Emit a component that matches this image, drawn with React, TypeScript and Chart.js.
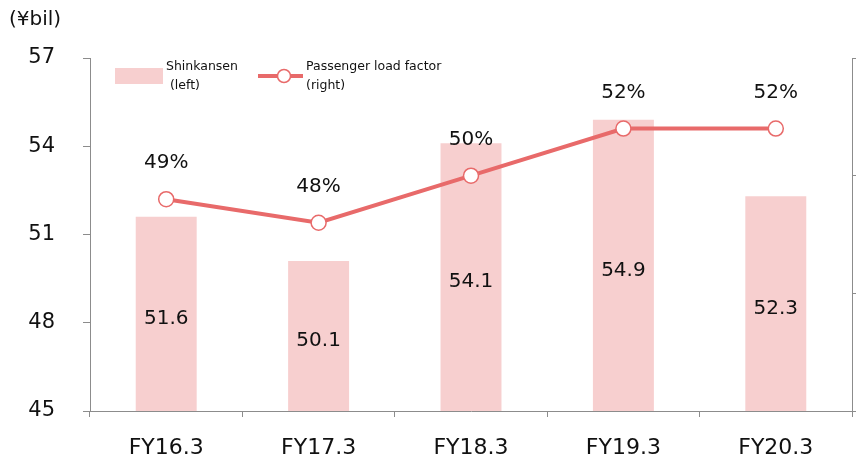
import React, { useEffect, useRef } from "react";
import { Chart, registerables } from "chart.js";

Chart.register(...registerables);

const categories = ["FY16.3", "FY17.3", "FY18.3", "FY19.3", "FY20.3"];
const shinkansen = [51.6, 50.1, 54.1, 54.9, 52.3];
const loadFactor = [49, 48, 50, 52, 52];
const loadLabels = ["49%", "48%", "50%", "52%", "52%"];
const leftTicks = [45, 48, 51, 54, 57];

const FONT = "'DejaVu Sans', Verdana, sans-serif";
const BAR_COLOR = "#F7CFCF";
const LINE_COLOR = "#E86A6A";
const AXIS_COLOR = "#8C8C8C";

const overlayPlugin = {
  id: "overlay",
  afterDatasetsDraw(chart: any) {
    const ctx = chart.ctx;
    ctx.save();
    ctx.fillStyle = "#111";
    ctx.textAlign = "center";
    ctx.textBaseline = "middle";
    ctx.font = `20px ${FONT}`;
    const yScale = chart.scales.y;
    const xScale = chart.scales.x;
    const basePx = yScale.getPixelForValue(yScale.min);
    shinkansen.forEach((v, i) => {
      const top = yScale.getPixelForValue(v);
      const x = xScale.getPixelForValue(i);
      ctx.fillText(v.toFixed(1), x, (top + basePx) / 2 + 5);
    });
    const lineMeta = chart.getDatasetMeta(0);
    lineMeta.data.forEach((el: any, i: number) => {
      ctx.fillText(loadLabels[i], el.x, el.y - 36);
    });

    // unit label
    ctx.textAlign = "left";
    ctx.font = `20px ${FONT}`;
    ctx.fillText("(¥bil)", 9, 20);

    // legend
    ctx.fillStyle = BAR_COLOR;
    ctx.fillRect(115, 68, 48, 16);
    ctx.fillStyle = "#111";
    ctx.font = `12.5px ${FONT}`;
    ctx.fillText("Shinkansen", 166, 67);
    ctx.fillText(" (left)", 166, 86);

    ctx.strokeStyle = LINE_COLOR;
    ctx.lineWidth = 4;
    ctx.beginPath();
    ctx.moveTo(258, 76);
    ctx.lineTo(303, 76);
    ctx.stroke();
    ctx.beginPath();
    ctx.arc(284, 76, 6.5, 0, Math.PI * 2);
    ctx.fillStyle = "#fff";
    ctx.fill();
    ctx.lineWidth = 1.5;
    ctx.stroke();
    ctx.fillStyle = "#111";
    ctx.fillText("Passenger load factor", 306, 67);
    ctx.fillText("(right)", 306, 86);
    ctx.restore();
  },
};

export default function App() {
  const ref = useRef<HTMLCanvasElement | null>(null);
  useEffect(() => {
    if (!ref.current) return;
    const chart = new Chart(ref.current, {
      type: "bar",
      data: {
        labels: categories,
        datasets: [
          {
            type: "line",
            label: "Passenger load factor (right)",
            data: loadFactor,
            yAxisID: "y1",
            borderColor: LINE_COLOR,
            borderWidth: 4,
            pointRadius: 7.5,
            pointBorderWidth: 1.5,
            pointBackgroundColor: "#fff",
            pointBorderColor: LINE_COLOR,
            order: 0,
          } as any,
          {
            type: "bar",
            label: "Shinkansen (left)",
            data: shinkansen,
            yAxisID: "y",
            backgroundColor: BAR_COLOR,
            barPercentage: 0.4,
            categoryPercentage: 1,
            order: 1,
          },
        ],
      },
      options: {
        animation: false,
        responsive: true,
        maintainAspectRatio: false,
        layout: { padding: { top: 58, left: 0, right: 0, bottom: 0 } },
        plugins: { legend: { display: false }, tooltip: { enabled: false } },
        scales: {
          x: {
            afterFit: (axis: any) => {
              axis.height = 53;
            },
            grid: {
              display: true,
              drawOnChartArea: false,
              drawTicks: true,
              tickLength: 6,
              color: AXIS_COLOR,
              offset: true,
            },
            border: { color: AXIS_COLOR, width: 1 },
            ticks: { font: { family: FONT, size: 22 }, color: "#111", padding: 18, maxRotation: 0 },
          },
          y: {
            position: "left",
            min: 45,
            max: 57,
            afterFit: (axis: any) => {
              axis.width = 90;
            },
            afterBuildTicks: (axis: any) => {
              axis.ticks = leftTicks.map((v) => ({ value: v }));
            },
            grid: { drawOnChartArea: false, tickLength: 7, color: AXIS_COLOR },
            border: { color: AXIS_COLOR, width: 1 },
            ticks: { font: { family: FONT, size: 21 }, color: "#111", padding: 28 },
          },
          y1: {
            position: "right",
            min: 40,
            max: 55,
            afterFit: (axis: any) => {
              axis.width = 4;
            },
            ticks: { display: false, stepSize: 5 },
            grid: { drawOnChartArea: false, tickLength: 4, color: AXIS_COLOR },
            border: { color: AXIS_COLOR, width: 1 },
          },
        },
      },
      plugins: [overlayPlugin],
    });
    return () => chart.destroy();
  }, []);
  return (
    <div style={{ position: "fixed", left: 0, top: 0, width: 861, height: 464, background: "#fff" }}>
      <canvas ref={ref} />
    </div>
  );
}
